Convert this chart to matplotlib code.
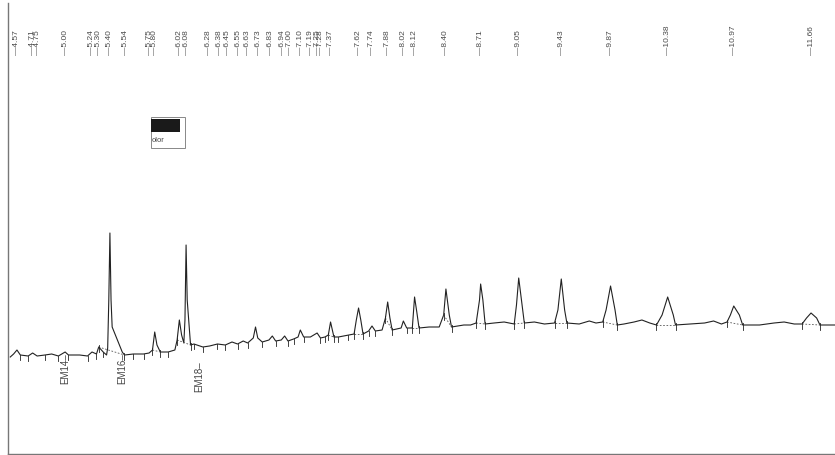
# Cromatograma (traço digitalizado) com tempos de retenção no topo
import numpy as np
import matplotlib
matplotlib.use('Agg')
import matplotlib.pyplot as plt
from matplotlib.patches import Rectangle

plt.rcParams['font.family'] = ['Liberation Sans', 'DejaVu Sans']

# tempos de retenção marcados no topo (min)
rt_labels = [4.57, 4.71, 4.75, 5.00, 5.24, 5.30, 5.40, 5.54, 5.75, 5.80,
             6.02, 6.08, 6.28, 6.38, 6.45, 6.55, 6.63, 6.73, 6.83, 6.94,
             7.00, 7.10, 7.19, 7.25, 7.28, 7.37, 7.62, 7.74, 7.88, 8.02,
             8.12, 8.40, 8.71, 9.05, 9.43, 9.87, 10.38, 10.97, 11.66]

# marcadores EM embaixo do traço
em_names = ['EM14', 'EM16', 'EM18']
em_times = [5.00, 5.51, 6.20]

# traço do detector (tempo em min, sinal em unidades arbitrárias)
trace_t = [4.51, 4.54, 4.57, 4.60, 4.67, 4.71, 4.75, 4.82, 4.88, 4.94,
           5.00, 5.03, 5.13, 5.20, 5.24, 5.28, 5.30, 5.34, 5.37, 5.38,
           5.39, 5.40, 5.41, 5.42, 5.46, 5.51, 5.53, 5.61, 5.70, 5.75,
           5.78, 5.80, 5.82, 5.85, 5.92, 5.98, 6.00, 6.02, 6.04, 6.06,
           6.07, 6.08, 6.09, 6.12, 6.15, 6.23, 6.29, 6.36, 6.43, 6.49,
           6.54, 6.59, 6.63, 6.68, 6.70, 6.72, 6.76, 6.82, 6.85, 6.88,
           6.93, 6.96, 6.99, 7.04, 7.08, 7.10, 7.13, 7.19, 7.25, 7.28,
           7.32, 7.35, 7.37, 7.40, 7.44, 7.53, 7.58, 7.60, 7.62, 7.64,
           7.66, 7.71, 7.74, 7.77, 7.83, 7.86, 7.88, 7.90, 7.92, 8.00,
           8.02, 8.05, 8.10, 8.11, 8.12, 8.14, 8.16, 8.25, 8.34, 8.38,
           8.40, 8.43, 8.45, 8.56, 8.62, 8.67, 8.70, 8.71, 8.73, 8.75,
           8.83, 8.92, 9.01, 9.03, 9.05, 9.08, 9.10, 9.19, 9.28, 9.37,
           9.40, 9.43, 9.46, 9.48, 9.59, 9.68, 9.74, 9.80, 9.83, 9.87,
           9.91, 9.93, 9.99, 10.08, 10.15, 10.22, 10.28, 10.33, 10.38, 10.43,
           10.45, 10.58, 10.71, 10.79, 10.86, 10.91, 10.94, 10.97, 11.02, 11.05,
           11.20, 11.33, 11.42, 11.51, 11.58, 11.62, 11.66, 11.71, 11.74, 11.87]
trace_s = [3, 6, 10, 5, 4, 7, 4, 5, 6, 4,
           8, 5, 5, 4, 8, 6, 13, 8, 5, 12,
           60, 127, 60, 33, 22, 8, 5, 6, 6, 7,
           10, 28, 15, 8, 8, 10, 20, 40, 25, 17,
           40, 115, 60, 15, 16, 13, 14, 16, 15, 18,
           16, 19, 17, 22, 33, 22, 18, 20, 24, 19,
           20, 24, 19, 21, 23, 30, 23, 23, 27, 22,
           23, 25, 38, 23, 23, 25, 26, 40, 52, 40,
           26, 29, 34, 29, 30, 42, 58, 42, 30, 32,
           39, 32, 32, 48, 63, 48, 32, 33, 33, 45,
           71, 45, 33, 35, 35, 37, 60, 76, 60, 36,
           37, 38, 36, 55, 82, 55, 37, 38, 36, 37,
           50, 81, 50, 37, 36, 39, 37, 38, 50, 74,
           50, 35, 36, 38, 40, 37, 35, 45, 63, 45,
           35, 36, 37, 39, 36, 38, 45, 54, 45, 35,
           35, 37, 38, 36, 36, 42, 47, 42, 35, 35]

# inicio / fim da integração de cada pico
peak_start = [5.30, 5.78, 6.00, 7.35, 7.58, 7.86, 8.10, 8.38, 8.67, 9.01,
              9.37, 9.80, 10.28, 10.91, 11.58]
peak_end = [5.53, 5.85, 6.12, 7.40, 7.66, 7.92, 8.16, 8.45, 8.75, 9.10,
            9.48, 9.93, 10.45, 11.05, 11.74]
# marcas de integração dos picos pequenos
small_marks = [4.60, 4.67, 4.82, 4.94, 5.03, 5.20, 5.28, 5.34, 5.61, 5.70,
               5.92, 6.15, 6.23, 6.36, 6.43, 6.54, 6.63, 6.76, 6.88, 6.99,
               7.04, 7.13, 7.28, 7.32, 7.44, 7.53, 7.71, 7.77, 8.05]

fig = plt.figure(figsize=(8.35, 4.55), dpi=100)
ax = fig.add_axes([8 / 835, 1 / 455, 1 - 8 / 835, 451 / 455])
ax.set_xlim(4.49, 11.874)
ax.set_ylim(-94, 357)
ax.set_xticks([])
ax.set_yticks([])
for lado in ['top', 'right']:
    ax.spines[lado].set_visible(False)
for lado in ['left', 'bottom']:
    ax.spines[lado].set_color('#777777')
    ax.spines[lado].set_linewidth(1.0)

cor = '#222222'
ax.plot(trace_t, trace_s, color=cor, linewidth=0.8)

# linha de base tracejada e marcas de integração
for a, b in zip(peak_start, peak_end):
    ya = np.interp(a, trace_t, trace_s)
    yb = np.interp(b, trace_t, trace_s)
    ax.plot([a, b], [ya, yb], color='#555555', linewidth=0.6, linestyle=(0, (2, 2)))
    ax.plot([a, a], [ya + 2, ya - 5], color=cor, linewidth=0.6)
    ax.plot([b, b], [yb + 2, yb - 5], color=cor, linewidth=0.6)
for m in small_marks:
    ym = np.interp(m, trace_t, trace_s)
    ax.plot([m, m], [ym, ym - 5], color=cor, linewidth=0.6)

# tempos no topo
for rt in rt_labels:
    ax.text(rt, 305, '\u2014' + f'{rt:.2f}', rotation=90, ha='center', va='bottom',
            fontsize=6, color='#4a4a4a')

# marcadores EM
quedas = [1, 1, 16]
for nome, t, q in zip(em_names, em_times, quedas):
    ax.text(t, np.interp(t, trace_t, trace_s) - q, nome + '\u2013', rotation=90,
            ha='center', va='top', fontsize=7, color='#444444')

# pedaço da legenda
fig.add_artist(Rectangle((151 / 835, 1 - 148 / 455), 34 / 835, 31 / 455,
                         transform=fig.transFigure, facecolor='white',
                         edgecolor='#888888', linewidth=0.7))
fig.add_artist(Rectangle((151 / 835, 1 - 132 / 455), 29 / 835, 13 / 455,
                         transform=fig.transFigure, facecolor='#1a1a1a',
                         edgecolor='none'))
fig.text(152 / 835, 1 - 141 / 455, 'olor', fontsize=5.5, color='#444444', va='center')

fig.savefig('out.png', dpi=100)
